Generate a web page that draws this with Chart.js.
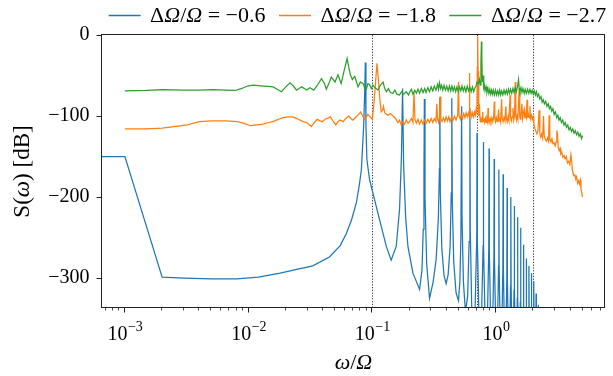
<!DOCTYPE html>
<html><head><meta charset="utf-8">
<script src="https://cdn.jsdelivr.net/npm/chart.js@4/dist/chart.umd.min.js"></script>
<style>html,body{margin:0;padding:0;background:#fff}#wrap{width:613px;height:376px;position:relative}</style>
</head><body><div id="wrap"><canvas id="c"></canvas></div>
<script>
const seriesLabels = ['ΔΩ/Ω = −0.6', 'ΔΩ/Ω = −1.8', 'ΔΩ/Ω = −2.7'];
const seriesColors = ['#1f77b4', '#ff7f0e', '#2ca02c'];
const xTickValues = [1e-3, 1e-2, 1e-1, 1];
const xTickExponents = ['−3', '−2', '−1', '0'];
const yTickValues = [0, -100, -200, -300];
const markerLines = [0.1, 0.7, 2];
const xMin = 6.53e-4, xMax = 7.6, yMin = -337, yMax = 0;
const xTitle = 'ω/Ω';
const yTitle = 'S(ω) [dB]';

const blueData = [
[0.00065,-150],[0.001,-150],[0.002,-299],[0.003,-300],[0.005,-301],[0.008,-301],[0.012,-299],[0.018,-294],[0.025,-289],[0.033,-285],[0.045,-274],[0.055,-260],[0.0617,-245],[0.068,-228],[0.0743,-207],[0.0785,-185],[0.0815,-167],[0.0851,-113],[0.0868,-70],[0.0878,-34],[0.0888,-110],[0.0904,-154],[0.0951,-179],[0.101,-195],[0.1144,-228],[0.1297,-261],[0.142,-278],[0.156,-261],[0.166,-215],[0.172,-150],[0.1756,-66],[0.179,-160],[0.186,-225],[0.194,-261],[0.213,-294],[0.241,-314],[0.252,-290],[0.258,-240],[0.2615,-170],[0.2634,-79],[0.2665,-200],[0.275,-282],[0.29,-325],[0.31,-305],[0.328,-277],[0.342,-225],[0.3485,-165],[0.3512,-77],[0.3545,-195],[0.365,-265],[0.38,-297],[0.395,-307],[0.41,-296],[0.425,-262],[0.4345,-195],[0.439,-78],[0.443,-205],[0.455,-280],[0.475,-318],[0.497,-328],[0.51,-305],[0.52,-250],[0.527,-88],[0.531,-225],[0.545,-305],[0.566,-342],[0.59,-322],[0.606,-255],[0.615,-90],[0.619,-240],[0.635,-330],[0.658,-420],
[0.6985,-250],[0.702,-121],[0.7055,-250],[0.745,-420],
[0.786,-260],[0.790,-132],[0.794,-260],[0.834,-420],
[0.8735,-265],[0.878,-140],[0.8825,-265],[0.922,-420],
[0.961,-275],[0.966,-153],[0.971,-275],[1.01,-420],
[1.049,-285],[1.054,-166],[1.059,-285],[1.097,-420],
[1.135,-290],[1.141,-172],[1.147,-290],[1.185,-420],
[1.223,-300],[1.229,-189],[1.235,-300],[1.273,-420],
[1.310,-310],[1.317,-200],[1.324,-310],[1.361,-420],
[1.398,-315],[1.405,-211],[1.412,-315],[1.449,-420],
[1.486,-325],[1.493,-225],[1.500,-325],[1.536,-420],
[1.572,-330],[1.580,-238],[1.588,-330],[1.624,-420],
[1.660,-340],[1.668,-259],[1.676,-340],[1.712,-420],
[1.747,-345],[1.756,-276],[1.765,-345],[1.800,-420],
[1.835,-350],[1.844,-285],[1.853,-350],[1.888,-420],
[1.922,-355],[1.932,-294],[1.942,-355],[1.975,-420],
[2.009,-360],[2.019,-304],[2.029,-360],[2.063,-420],
[2.096,-365],[2.107,-319],[2.118,-365],[2.151,-420],
[2.184,-370],[2.195,-333],[2.206,-370],[2.25,-420]
];

const orangeData = [
[0.001,-116],[0.0015,-116],[0.002,-115],[0.0025,-113],[0.0032,-111],[0.004,-107],[0.005,-106],[0.0066,-106],[0.0081,-107],[0.0092,-109],[0.0103,-112],[0.0116,-111],[0.0131,-110],[0.0145,-108],[0.0158,-107],[0.0175,-104],[0.019,-102],[0.0208,-101],[0.0228,-101],[0.0243,-103],[0.0259,-105],[0.0275,-107],[0.0295,-108],[0.0322,-113],[0.034,-108],[0.0358,-104],[0.0378,-106],[0.0396,-107],[0.0414,-104],[0.0432,-103],[0.0459,-101],[0.048,-106],[0.0507,-111],[0.0527,-107],[0.0547,-105],[0.0581,-107],[0.061,-103],[0.0645,-100],[0.067,-103],[0.0697,-105],[0.0742,-101],[0.0775,-98],[0.0804,-95],[0.0835,-100],[0.0868,-104],[0.0895,-101],[0.0921,-98],[0.096,-101],[0.1,-104],[0.103,-85],[0.106,-60],[0.109,-35],[0.112,-55],[0.115,-80],[0.118,-95],[0.121,-93],[0.123,-88],[0.126,-96],[0.130,-98],[0.134,-99],[0.140,-97],[0.147,-100],[0.154,-103],[0.161,-108],[0.166,-105],[0.171,-111],[0.176,-107],[0.182,-110],[0.188,-105],[0.194,-109],
[0.20,-107],[0.207,-103],[0.213,-108],[0.217,-70],[0.221,-104],[0.227,-109],[0.234,-104],[0.241,-110],[0.249,-105],[0.257,-110],[0.265,-105],[0.272,-109],[0.281,-104],[0.29,-108],[0.299,-103],[0.308,-108],[0.317,-103],[0.327,-107],[0.332,-85],[0.337,-104],[0.343,-108],[0.349,-102],[0.353,-76],[0.358,-103],[0.366,-107],[0.375,-102],[0.385,-107],[0.395,-101],[0.405,-106],[0.415,-101],[0.425,-107],[0.435,-102],[0.447,-106],[0.461,-100],[0.475,-105],[0.49,-99],[0.497,-58],[0.503,-100],[0.515,-104],[0.522,-99],[0.535,-103],[0.548,-97],[0.56,-102],[0.573,-96],[0.585,-101],[0.597,-96],[0.605,-100],[0.609,-47],[0.614,-99],[0.625,-95],[0.637,-101],[0.648,-96],[0.66,-101],[0.672,-95],[0.683,-99],[0.69,-92],[0.70,-97],[0.706,-40],[0.711,-2],[0.716,-45],[0.722,-90],[0.728,-100],[0.734,-85],[0.742,-104],[0.75,-108],[0.758,-104],[0.766,-108],[0.775,-103],[0.78,-95],[0.786,-107],[0.797,-103],[0.808,-108],[0.82,-103],[0.831,-108],[0.843,-103],[0.855,-107],[0.862,-90],[0.868,-103],[0.88,-108],[0.895,-103],[0.91,-107],[0.925,-102],[0.94,-107],[0.955,-102],[0.97,-82],[0.977,-103],[0.99,-107],[1.005,-102],[1.02,-107],[1.035,-102],[1.05,-92],[1.06,-106],[1.075,-102],[1.09,-107],[1.11,-79],[1.12,-102],[1.14,-107],[1.16,-102],[1.18,-106],[1.20,-88],[1.21,-102],[1.23,-107],[1.25,-101],[1.27,-106],[1.30,-74],[1.31,-101],[1.33,-106],[1.35,-101],[1.37,-90],[1.39,-105],[1.41,-100],[1.43,-58],[1.445,-100],[1.46,-105],[1.48,-100],[1.50,-104],[1.54,-66],[1.555,-100],[1.57,-104],[1.59,-99],[1.62,-85],[1.64,-103],[1.66,-98],[1.69,-92],[1.71,-103],[1.73,-98],[1.76,-102],[1.78,-80],[1.80,-102],[1.82,-97],[1.85,-102],[1.88,-88],[1.90,-103],[1.93,-99],[1.96,-104],[1.99,-101],[2.02,-110],[2.06,-115],[2.10,-119],[2.14,-122],[2.18,-118],[2.23,-93],[2.26,-122],[2.30,-126],[2.34,-122],[2.38,-127],[2.42,-100],[2.45,-124],[2.50,-129],[2.56,-131],[2.61,-127],[2.66,-131],[2.69,-99],[2.72,-128],[2.78,-132],[2.83,-128],[2.88,-134],[2.94,-133],[3.01,-137],[3.06,-132],[3.10,-118],[3.14,-123],[3.18,-138],[3.24,-143],[3.30,-140],[3.34,-147],[3.40,-145],[3.47,-151],[3.55,-149],[3.62,-153],[3.70,-150],[3.78,-158],[3.86,-156],[3.95,-160],[4.03,-148],[4.08,-155],[4.14,-166],[4.20,-171],[4.27,-174],[4.34,-172],[4.41,-178],[4.48,-175],[4.56,-183],[4.64,-180],[4.72,-184],[4.80,-179],[4.86,-190],[4.93,-195],[5.0,-200]
];

const greenData = [
[0.001,-69],[0.0015,-68.5],[0.002,-67.5],[0.003,-68],[0.004,-68],[0.0052,-67.5],[0.0065,-68],[0.0078,-68.5],[0.0088,-66],[0.0098,-63],[0.0109,-62],[0.012,-62.5],[0.0131,-63],[0.0145,-63.5],[0.0158,-64],[0.017,-67],[0.0184,-70],[0.020,-64],[0.0216,-59],[0.023,-63],[0.0244,-68],[0.0256,-66],[0.0268,-64],[0.0282,-66],[0.0295,-68],[0.0313,-65],[0.0336,-68],[0.036,-62],[0.0388,-54],[0.041,-60],[0.0425,-67],[0.0445,-60],[0.0466,-52],[0.0499,-58],[0.0528,-49],[0.056,-60],[0.059,-45],[0.0625,-29],[0.0645,-40],[0.0664,-49],[0.069,-55],[0.0721,-51],[0.0745,-58],[0.0767,-64],[0.080,-58],[0.0843,-60],[0.087,-66],[0.0895,-67],[0.092,-60],[0.095,-61],[0.098,-66],[0.101,-62],[0.105,-65],[0.111,-68],[0.116,-62],[0.122,-58],[0.126,-66],[0.130,-70],[0.135,-66],[0.140,-71],[0.147,-72],[0.152,-68],[0.158,-73],[0.166,-74],[0.172,-70],[0.179,-73],[0.188,-70],[0.196,-74],
[0.20,-71],[0.207,-67],[0.213,-73],[0.22,-68],[0.227,-72],[0.234,-67],[0.241,-72],[0.249,-66],[0.257,-71],[0.265,-66],[0.272,-71],[0.281,-65],[0.29,-70],[0.299,-64],[0.308,-69],[0.317,-63],[0.327,-68],[0.337,-61],[0.343,-67],[0.349,-59],[0.356,-66],[0.363,-62],[0.371,-68],[0.38,-62],[0.39,-68],[0.40,-63],[0.41,-69],[0.42,-63],[0.43,-69],[0.44,-63],[0.45,-69],[0.461,-64],[0.472,-70],[0.483,-64],[0.495,-70],[0.507,-64],[0.519,-69],[0.531,-63],[0.544,-69],[0.557,-64],[0.571,-70],[0.585,-63],[0.599,-69],[0.614,-64],[0.629,-70],[0.644,-64],[0.66,-70],[0.676,-65],[0.69,-63],[0.703,-58],[0.72,-60],[0.734,-55],[0.745,-62],[0.755,-35],[0.762,-8],[0.768,-30],[0.775,-58],[0.785,-50],[0.795,-65],[0.805,-62],[0.815,-69],[0.83,-64],[0.845,-71],[0.86,-66],[0.875,-72],[0.89,-67],[0.905,-73],[0.92,-68],[0.935,-73],[0.95,-68],[0.97,-74],[0.99,-68],[1.01,-74],[1.03,-69],[1.05,-74],[1.07,-68],[1.09,-74],[1.11,-69],[1.135,-74],[1.16,-68],[1.185,-73],[1.21,-68],[1.235,-73],[1.26,-67],[1.285,-72],[1.31,-67],[1.34,-72],[1.37,-66],[1.40,-71],[1.43,-65],[1.46,-70],[1.49,-64],[1.52,-55],[1.54,-66],[1.56,-70],[1.59,-65],[1.62,-71],[1.65,-66],[1.69,-72],[1.72,-67],[1.76,-72],[1.80,-67],[1.84,-72],[1.88,-67],[1.92,-72],[1.96,-68],[2.0,-73],[2.04,-69],[2.08,-74],[2.12,-70],[2.16,-76],[2.21,-73],[2.26,-79],[2.31,-76],[2.36,-83],[2.41,-80],[2.46,-85],[2.52,-82],[2.58,-88],[2.64,-85],[2.70,-91],[2.76,-88],[2.82,-94],[2.88,-91],[2.95,-98],[3.02,-95],[3.09,-102],[3.16,-99],[3.23,-105],[3.30,-102],[3.38,-108],[3.46,-105],[3.54,-111],[3.62,-108],[3.71,-114],[3.80,-111],[3.89,-117],[3.98,-114],[4.07,-119],[4.17,-116],[4.27,-121],[4.37,-118],[4.47,-123],[4.58,-120],[4.69,-125],[4.80,-122],[4.91,-128],[5.0,-124]
];

const SERIF = '"Liberation Serif","Times New Roman",serif';

function drawMixed(ctx, str, x, y, size, doDraw) {
  let cx = x;
  for (const ch of str) {
    const it = (ch === 'Ω' || ch === 'ω');
    ctx.font = (it ? 'italic ' : '') + size + 'px ' + SERIF;
    if (doDraw) ctx.fillText(ch, cx, y);
    cx += ctx.measureText(ch).width;
  }
  return cx - x;
}

const decor = {
  id: 'decor',
  beforeDatasetsDraw(chart) {
    const {ctx, chartArea: a, scales: {x}} = chart;
    ctx.save();
    ctx.strokeStyle = '#333';
    ctx.lineWidth = 1;
    ctx.setLineDash([1.2, 1.6]);
    markerLines.forEach(v => {
      const px = Math.round(x.getPixelForValue(v)) + 0.5;
      ctx.beginPath(); ctx.moveTo(px, a.top); ctx.lineTo(px, a.bottom); ctx.stroke();
    });
    ctx.restore();
  },
  afterDraw(chart) {
    const {ctx, chartArea: a, scales: {x, y}} = chart;
    ctx.save();
    ctx.strokeStyle = '#222';
    ctx.lineWidth = 1;
    const L = Math.round(a.left) - 0.5, R = Math.round(a.right) - 0.5, T = Math.round(a.top) - 0.5, B = Math.round(a.bottom) - 0.5;
    ctx.strokeRect(L, T, R - L, B - T);
    for (let d = -4; d <= 1; d++) {
      for (let k = 1; k <= 9; k++) {
        const v = k * Math.pow(10, d);
        if (v < xMin || v > xMax) continue;
        const px = Math.round(x.getPixelForValue(v)) - 0.5;
        ctx.lineWidth = k === 1 ? 1 : 0.8;
        ctx.beginPath(); ctx.moveTo(px, B); ctx.lineTo(px, B + (k === 1 ? 5 : 3)); ctx.stroke();
      }
    }
    yTickValues.forEach(v => {
      const py = Math.round(y.getPixelForValue(v)) + 0.5;
      ctx.lineWidth = 1;
      ctx.beginPath(); ctx.moveTo(L, py); ctx.lineTo(L - 5, py); ctx.stroke();
    });
    ctx.fillStyle = '#000';
    ctx.textBaseline = 'alphabetic';
    ctx.textAlign = 'left';
    xTickValues.forEach((v, i) => {
      const px = x.getPixelForValue(v);
      ctx.font = '20px ' + SERIF;
      const w1 = ctx.measureText('10').width;
      ctx.font = '14px ' + SERIF;
      const w2 = ctx.measureText(xTickExponents[i]).width;
      const start = px - (w1 + w2) / 2;
      ctx.font = '20px ' + SERIF;
      ctx.fillText('10', start, 340);
      ctx.font = '14px ' + SERIF;
      ctx.fillText(xTickExponents[i], start + w1 + 0.5, 331);
    });
    const wx = drawMixed(ctx, xTitle, 0, 0, 22, false);
    drawMixed(ctx, xTitle, (a.left + a.right) / 2 - wx / 2, 369, 22, true);
    ctx.save();
    ctx.translate(21, (a.top + a.bottom) / 2);
    ctx.rotate(-Math.PI / 2);
    const wy = drawMixed(ctx, yTitle, 0, 0, 23, false);
    drawMixed(ctx, yTitle, -wy / 2, 8, 23, true);
    ctx.restore();
    let lx = 108.6;
    seriesLabels.forEach((lab, i) => {
      ctx.strokeStyle = seriesColors[i];
      ctx.lineWidth = 1.5;
      ctx.setLineDash([]);
      ctx.beginPath(); ctx.moveTo(lx, 15.5); ctx.lineTo(lx + 32, 15.5); ctx.stroke();
      ctx.fillStyle = '#000';
      const w = drawMixed(ctx, lab, lx + 41.5, 22, 22, true);
      lx = lx + 41.5 + w + 13.5;
    });
    ctx.restore();
  }
};

const toXY = arr => arr.map(p => ({x: p[0], y: p[1]}));
const allData = [blueData, orangeData, greenData];

new Chart(document.getElementById('c'), {
  type: 'line',
  data: {
    datasets: allData.map((d, i) => ({
      label: seriesLabels[i],
      data: toXY(d),
      borderColor: seriesColors[i],
      backgroundColor: seriesColors[i],
      borderWidth: 1.25,
      pointRadius: 0,
      tension: 0,
      fill: false,
      order: 2 - i
    }))
  },
  options: {
    responsive: true,
    maintainAspectRatio: false,
    animation: false,
    devicePixelRatio: 1,
    layout: {padding: {top: 35, right: 8, left: 0, bottom: 0}},
    plugins: {legend: {display: false}, tooltip: {enabled: false}},
    scales: {
      x: {
        type: 'logarithmic', min: xMin, max: xMax,
        grid: {display: false, drawTicks: false},
        border: {display: false},
        ticks: {display: false},
        afterBuildTicks(s) { s.ticks = xTickValues.map(v => ({value: v})); },
        afterFit(s) { s.height = 68; }
      },
      y: {
        type: 'linear', min: yMin, max: yMax,
        grid: {display: false, drawTicks: false},
        border: {display: false},
        ticks: {
          color: '#000', padding: 12.5,
          font: {family: SERIF, size: 20},
          callback: v => v === 0 ? '0' : '−' + Math.abs(v)
        },
        afterBuildTicks(s) { s.ticks = yTickValues.map(v => ({value: v})); },
        afterFit(s) { s.width = 102; }
      }
    }
  },
  plugins: [decor]
});
</script>
</body></html>
